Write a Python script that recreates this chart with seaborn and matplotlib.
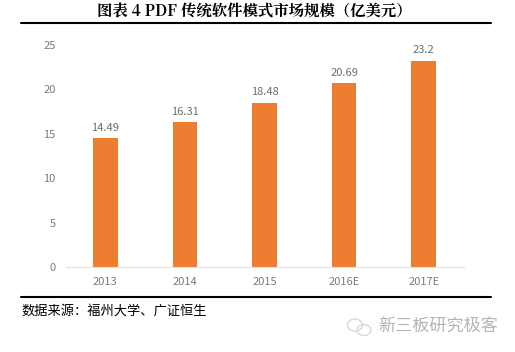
import matplotlib
matplotlib.use('Agg')
import matplotlib.pyplot as plt
from matplotlib.patches import Ellipse
import seaborn as sns
import pandas as pd

years = ['2013', '2014', '2015', '2016E', '2017E']
sizes = [14.49, 16.31, 18.48, 20.69, 23.2]
size_labels = ['14.49', '16.31', '18.48', '20.69', '23.2']
y_ticks = [0, 5, 10, 15, 20, 25]

W, H = 515, 352
sns.set_theme(style='white')
plt.rcParams['font.family'] = ['Noto Sans CJK SC', 'DejaVu Sans']

df = pd.DataFrame({'year': years, 'size': sizes})

fig = plt.figure(figsize=(W / 100, H / 100), dpi=100)
ax = fig.add_axes([65.5 / W, 1 - 267 / H, 398 / W, 222 / H])
sns.barplot(data=df, x='year', y='size', color='#ED7D31', saturation=1, width=0.31, linewidth=0, ax=ax)
ax.set_ylim(0, 25)
ax.set_yticks(y_ticks)
ax.set_xlabel('')
ax.set_ylabel('')
ax.tick_params(axis='both', length=0, labelsize=8, labelcolor='#7a7a7a')
ax.tick_params(axis='y', pad=7)
ax.tick_params(axis='x', pad=7)
sns.despine(ax=ax, left=True)
ax.spines['bottom'].set_color('#e2e2e2')
ax.spines['bottom'].set_linewidth(0.8)
ax.bar_label(ax.containers[0], labels=size_labels, padding=4, fontsize=8, color='#6e6e6e')

# title, rules and source sit outside the axes
fig.text(254 / W, 1 - 12 / H, '图表 4 PDF 传统软件模式市场规模（亿美元）', ha='center', va='center',
         fontsize=11.1, fontweight='bold', color='black',
         family=['Noto Serif CJK SC', 'Noto Sans CJK SC', 'DejaVu Sans'])
fig.add_artist(plt.Line2D([21 / W, 491 / W], [1 - 23 / H, 1 - 23 / H], color='black', lw=1.5))
fig.add_artist(plt.Line2D([21 / W, 491 / W], [1 - 297 / H, 1 - 297 / H], color='black', lw=1.5))
fig.text(21 / W, 1 - 311 / H, '数据来源：福州大学、广证恒生', ha='left', va='center',
         fontsize=9.5, color='black')
fig.text(378 / W, 1 - 327 / H, '新三板研究极客', ha='left', va='center', fontsize=12.3, color='#b4b4b4')

# wechat mark beside the watermark
for cx, cy, w, h in [(355, 325, 15, 12), (364, 330, 14, 11)]:
    fig.add_artist(Ellipse((cx / W, 1 - cy / H), w / W, h / H, transform=fig.transFigure,
                           fill=False, edgecolor='#d8d8d8', lw=1))

fig.savefig('out.png', dpi=100)
